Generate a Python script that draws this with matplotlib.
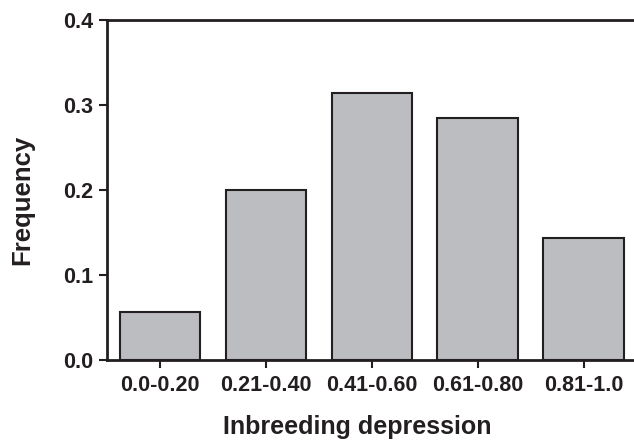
import matplotlib.pyplot as plt

categories = ["0.0-0.20", "0.21-0.40", "0.41-0.60", "0.61-0.80", "0.81-1.0"]
frequency = [0.057, 0.20, 0.314, 0.285, 0.144]

plt.rcParams["font.family"] = ["Liberation Sans", "DejaVu Sans"]
plt.rcParams["font.weight"] = "bold"

fig = plt.figure(figsize=(6.34, 4.42), dpi=100)
ax = fig.add_axes([107 / 634, 82 / 442, 529.5 / 634, 340 / 442])

ax.bar(range(len(categories)), frequency, width=0.76,
       color="#bcbdc1", edgecolor="#231f20", linewidth=1.5)

ax.set_xlim(-0.5, 4.5)
ax.set_ylim(0, 0.4)
ax.set_xticks(range(len(categories)))
ax.set_xticklabels(categories)
ax.set_yticks([0.0, 0.1, 0.2, 0.3, 0.4])
ax.set_yticklabels(["0.0", "0.1", "0.2", "0.3", "0.4"])

for side in ["left", "bottom", "top"]:
    ax.spines[side].set_linewidth(2)
    ax.spines[side].set_color("#231f20")
ax.spines["right"].set_visible(False)

ax.tick_params(axis="both", direction="out", length=6, width=1.5,
               color="#231f20", labelsize=15.5, labelcolor="#231f20")
ax.tick_params(axis="x", pad=5)
ax.tick_params(axis="y", pad=4)

ax.set_xlabel("Inbreeding depression", fontsize=18, fontweight="bold",
              color="#231f20")
ax.set_ylabel("Frequency", fontsize=18.5, fontweight="bold",
              color="#231f20")
ax.xaxis.set_label_coords(0.472, -0.163)
ax.yaxis.set_label_coords(-0.137, 0.47)

fig.savefig("out.png", dpi=100)
